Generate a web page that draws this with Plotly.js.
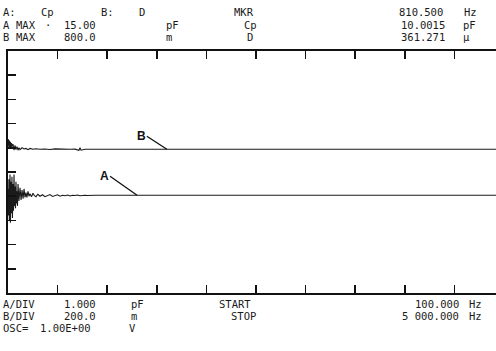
<!DOCTYPE html>
<html>
<head>
<meta charset="utf-8">
<script src="https://cdn.plot.ly/plotly-3.0.1.min.js"></script>
<style>
html,body{margin:0;padding:0;overflow:hidden;background:#fff;}
#chart{width:510px;height:351px;}
</style>
</head>
<body>
<div id="chart"></div>
<script>
// ---- sweep settings ----
const startFreq = 100;        // Hz
const stopFreq = 5000000;     // Hz
const divisions = 10;

// ---- trace A : Cp (pF) ----
const freqA = [100, 101, 102, 103, 104.5, 105.5, 106.8, 108, 109, 110.2, 111.5, 112.8, 114, 115.2, 116.5, 117.8, 119, 120.3, 121.7, 123, 124.4, 127, 130, 133, 135.8, 139, 141.8, 145, 148, 151, 154.7, 158, 161.6, 167, 172.5, 178, 184, 192, 201, 212, 224, 237, 250, 264, 279, 295, 311, 329, 347, 367, 387, 409, 431, 456, 481, 508, 536, 567, 598, 670, 744, 5000000];
const cpA   = [9.3, 8.2, 9.7, 8.0, 9.9, 7.9, 9.6, 8.3, 9.8, 8.1, 9.5, 8.4, 9.9, 8.6, 9.4, 8.5, 9.6, 8.7, 9.2, 8.6, 9.5, 8.8, 9.35, 8.85, 9.25, 8.9, 9.3, 8.95, 9.15, 8.95, 9.2, 9.0, 9.1, 8.98, 9.12, 9.02, 8.98, 9.08, 9.0, 9.06, 8.98, 9.04, 9.07, 8.99, 9.03, 9.06, 9.0, 9.04, 9.02, 9.05, 9.01, 9.04, 9.03, 9.05, 9.02, 9.04, 9.04, 9.03, 9.04, 9.04, 9.04, 9.04];

// ---- trace B : D ----
const freqB = [100, 101, 102, 103, 104.5, 105.5, 106.8, 108, 109, 111.5, 114, 116.5, 119, 121.7, 124.4, 127, 130, 135.8, 141.8, 148, 154.7, 161.6, 172.5, 184, 201, 224, 250, 279, 311, 347, 387, 431, 470, 481, 492, 536, 598, 744, 5000000];
const dB    = [0.02, 0.07, -0.01, 0.06, 0.0, 0.05, -0.01, 0.04, 0.01, 0.03, -0.02, 0.02, -0.015, 0.01, -0.02, 0.0, -0.015, 0.0, -0.01, -0.005, -0.015, -0.005, -0.012, -0.008, -0.012, -0.01, -0.014, -0.009, -0.012, -0.01, -0.012, -0.011, -0.02, 0.0, -0.02, -0.012, -0.012, -0.012, -0.012];

// ---- axis scales ----
const aMax = 15.0, aDiv = 1.0;     // pF
const bMax = 0.8,  bDiv = 0.2;     // D

// ---- label anchor frequencies ----
const labelFreqA = 1670;
const labelFreqB = 3200;

// ---- screen text ----
const headerLines = [
  [{t:"A:",x:2},{t:"Cp",x:40},{t:"B:",x:100},{t:"D",x:138},{t:"MKR",x:233},{t:"810.500",x:444,r:true},{t:"Hz",x:463}],
  [{t:"A",x:2},{t:"MAX",x:15},{t:"·",x:44},{t:"15.00",x:97,r:true},{t:"pF",x:165},{t:"Cp",x:243},{t:"10.0015",x:446,r:true},{t:"pF",x:462}],
  [{t:"B",x:2},{t:"MAX",x:15},{t:"800.0",x:97,r:true},{t:"m",x:165},{t:"D",x:246},{t:"361.271",x:446,r:true},{t:"µ",x:462}]
];
const footerLines = [
  [{t:"A/DIV",x:2},{t:"1.000",x:97,r:true},{t:"pF",x:130},{t:"START",x:218},{t:"100.000",x:460,r:true},{t:"Hz",x:468}],
  [{t:"B/DIV",x:2},{t:"200.0",x:97,r:true},{t:"m",x:130},{t:"STOP",x:230},{t:"5 000.000",x:460,r:true},{t:"Hz",x:468}],
  [{t:"OSC=",x:2},{t:"1.00E+00",x:92,r:true},{t:"V",x:128}]
];

// ---- layout geometry ----
const W = 510, H = 351;
const mL = 8, mR = 6, mT = 51, mB = 58;
const pw = W - mL - mR, ph = H - mT - mB;
const headerY = [12.5, 24.8, 37.1];
const footerY = [303.5, 315.8, 328.1];

const lgStart = Math.log10(startFreq), lgStop = Math.log10(stopFreq);
const xTicks = [];
for (let k = 1; k < divisions; k++) xTicks.push(Math.pow(10, lgStart + k*(lgStop-lgStart)/divisions));
const yTicks = [];
for (let k = 1; k < divisions; k++) yTicks.push(aMax - divisions*aDiv + k*aDiv);

const txtFont = {family:"DejaVu Sans Mono", size:10.5, color:"#1a1a1a"};
const annotations = [];
function addRow(row, py){
  row.forEach(it => {
    annotations.push({
      text: it.t, xref:"paper", yref:"paper",
      x: (it.x - mL)/pw, y: (H - mB - py)/ph,
      xanchor: it.r ? "right" : "left", yanchor: "middle",
      showarrow:false, font: txtFont, borderpad:0
    });
  });
}
headerLines.forEach((r,i)=>addRow(r, headerY[i]));
footerLines.forEach((r,i)=>addRow(r, footerY[i]));

function valueAt(fx, fy, f){
  for (let i=1;i<fx.length;i++){ if (fx[i] >= f) return fy[i]; }
  return fy[fy.length-1];
}
annotations.push({x: Math.log10(labelFreqB), y: valueAt(freqB,dB,labelFreqB), xref:"x", yref:"y2",
  text:"B", showarrow:true, arrowhead:0, arrowwidth:1.3, arrowcolor:"#111", ax:-20, ay:-13,
  font:{family:"Liberation Sans", size:12, color:"#111", weight:700}, xanchor:"right", yanchor:"middle", borderpad:0});
annotations.push({x: Math.log10(labelFreqA), y: valueAt(freqA,cpA,labelFreqA), xref:"x", yref:"y",
  text:"A", showarrow:true, arrowhead:0, arrowwidth:1.3, arrowcolor:"#111", ax:-27, ay:-19,
  font:{family:"Liberation Sans", size:12, color:"#111", weight:700}, xanchor:"right", yanchor:"middle", borderpad:0});

const traces = [
  {x: freqA, y: cpA, type:"scatter", mode:"lines", xaxis:"x", yaxis:"y",
   line:{color:"#1a1a1a", width:1.1}, hoverinfo:"skip", showlegend:false},
  {x: freqB, y: dB, type:"scatter", mode:"lines", xaxis:"x", yaxis:"y2",
   line:{color:"#1a1a1a", width:1.1}, hoverinfo:"skip", showlegend:false}
];

const layout = {
  width: W, height: H,
  margin: {l:mL, r:mR, t:mT, b:mB, pad:0},
  paper_bgcolor:"#fff", plot_bgcolor:"#fff",
  showlegend:false,
  xaxis: {type:"log", range:[lgStart, lgStop], showgrid:false, zeroline:false,
          showline:true, linecolor:"#111", linewidth:2, mirror:"ticks",
          ticks:"inside", ticklen:8, tickwidth:1.5, tickcolor:"#111",
          tickmode:"array", tickvals:xTicks, showticklabels:false, fixedrange:true},
  yaxis: {range:[aMax - divisions*aDiv, aMax], showgrid:false, zeroline:false,
          showline:true, linecolor:"#111", linewidth:2, mirror:"ticks",
          ticks:"inside", ticklen:8, tickwidth:1.5, tickcolor:"#111",
          tickmode:"array", tickvals:yTicks, showticklabels:false, fixedrange:true},
  yaxis2: {range:[bMax - divisions*bDiv, bMax], overlaying:"y", visible:false, fixedrange:true},
  annotations: annotations
};

Plotly.newPlot("chart", traces, layout, {staticPlot:true, displayModeBar:false});
</script>
</body>
</html>
